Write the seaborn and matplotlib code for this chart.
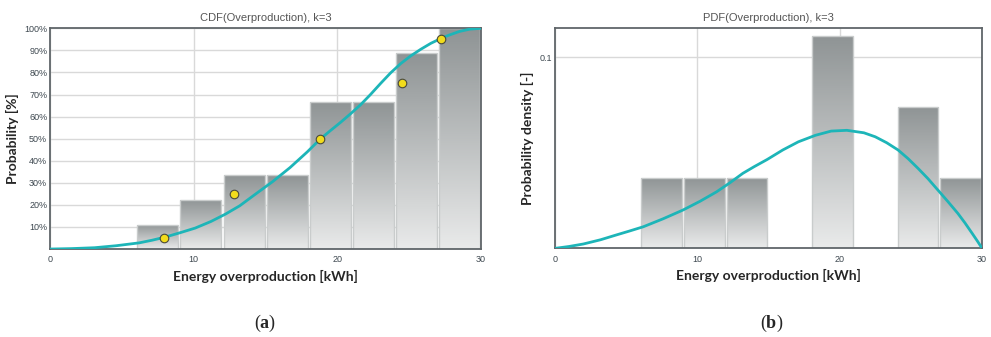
"""
CDF / PDF of energy overproduction (k=3), two panels side by side.
"""
import numpy as np
import pandas as pd
import matplotlib
matplotlib.use("Agg")
import matplotlib.pyplot as plt
from matplotlib.colors import LinearSegmentedColormap
import seaborn as sns

# histogram: bin centres and number of observations per bin
bin_edges = [6, 9, 12, 15, 18, 21, 24, 27, 30]
bin_centers = [7.5, 10.5, 13.5, 16.5, 19.5, 22.5, 25.5, 28.5]
bin_counts = [1, 1, 1, 0, 3, 0, 2, 1]

# fitted CDF curve, percent
cdf_x = [0, 1.5, 3.1, 4.6, 6.2, 7.1, 8.0, 9.0, 10.1, 11.2,
         12.2, 13.2, 14.3, 15.5, 16.7, 17.9, 18.8, 19.5, 20.2, 20.9,
         21.6, 22.3, 23.0, 23.7, 24.4, 25.1, 25.8, 26.5, 27.2, 27.8,
         28.5, 29.2, 30]
cdf_y = [0, 0.2, 0.6, 1.5, 2.8, 4.0, 5.4, 7.3, 9.5, 12.5,
         15.8, 19.6, 24.9, 30.6, 36.9, 44.0, 49.8, 53.6, 57.3, 61.2,
         65.3, 70.0, 75.0, 79.8, 84.0, 87.5, 90.5, 93.2, 95.4, 97.0,
         98.6, 99.6, 100]

# percentile markers on the CDF
pct_x = [7.96, 12.78, 18.82, 24.48, 27.24]
pct_y = [5, 25, 50, 75, 95]

# fitted PDF curve
pdf_x = [0, 1, 2, 3.2, 4.3, 5.2, 6.2, 7.6, 9.0, 10.2,
         11.35, 12.3, 13.2, 14.0, 14.9, 16.0, 17.1, 18.3, 19.4, 20.5,
         21.7, 22.5, 23.3, 24.1, 24.8, 25.5, 26.2, 26.9, 27.6, 28.3,
         28.8, 29.3, 29.7, 30]
pdf_y = [0, 0.001, 0.0023, 0.0045, 0.007, 0.009, 0.0113, 0.0155, 0.0201, 0.0247,
         0.0296, 0.0344, 0.0393, 0.0428, 0.0465, 0.0515, 0.0558, 0.0592, 0.0614, 0.0618,
         0.0605, 0.0584, 0.0553, 0.0515, 0.047, 0.0419, 0.0365, 0.0305, 0.0245, 0.0183,
         0.0133, 0.0079, 0.0035, 0]

sns.set_style("white")
plt.rcParams["font.family"] = ["Liberation Sans", "DejaVu Sans"]

hist_df = pd.DataFrame({"x": bin_centers, "n": bin_counts})
cdf_df = pd.DataFrame({"x": cdf_x, "y": cdf_y})
pdf_df = pd.DataFrame({"x": pdf_x, "y": pdf_y})
pct_df = pd.DataFrame({"x": pct_x, "y": pct_y})

curve_col = "#1db5b8"
frame_col = "#60666a"
tick_col = "#3e4850"
grad = LinearSegmentedColormap.from_list("bar", ["#e9eaea", "#8f9495"])

fig = plt.figure(figsize=(9.91, 3.37), dpi=100)
ax1 = fig.add_axes([0.0505, 0.261, 0.435, 0.655])
ax2 = fig.add_axes([0.560, 0.263, 0.431, 0.653])


def gradient_bars(ax):
    # replace flat bar fill by a vertical grey gradient
    for p in list(ax.patches):
        x0, y0 = p.get_x(), p.get_y()
        w, h = p.get_width(), p.get_height()
        if h <= 0:
            p.set_visible(False)
            continue
        img = np.linspace(0, 1, 100).reshape(-1, 1)
        im = ax.imshow(img, cmap=grad, origin="lower", aspect="auto",
                       extent=(x0, x0 + w, y0, y0 + h), zorder=1.5)
        im.set_clip_path(p)
        p.set_facecolor("none")
        p.set_edgecolor("#c9cccc")
        p.set_linewidth(1.0)
        p.set_zorder(1.6)


def style_axes(ax):
    ax.set_axisbelow(True)
    ax.grid(True, color="#d9d9d9", linewidth=1.0)
    for s in ax.spines.values():
        s.set_color(frame_col)
        s.set_linewidth(1.3)
    ax.tick_params(axis="x", length=2.5, width=0.8, color=frame_col, pad=2,
                   labelsize=6.5, labelcolor=tick_col)
    ax.tick_params(axis="y", length=0, pad=2, labelsize=6.5, labelcolor=tick_col)
    ax.set_xlim(0, 30)
    ax.set_xticks([0, 10, 20, 30])
    ax.set_xlabel("Energy overproduction [kWh]", fontsize=10, fontweight="bold",
                  family="Lato", labelpad=4)


# (a) CDF
sns.histplot(data=hist_df, x="x", weights="n", bins=bin_edges, stat="percent",
             cumulative=True, shrink=0.95, ax=ax1, legend=False)
gradient_bars(ax1)
sns.lineplot(data=cdf_df, x="x", y="y", color=curve_col, linewidth=2.0, ax=ax1, zorder=3)
sns.scatterplot(data=pct_df, x="x", y="y", color="#f2dc1c", edgecolor="#4a4a3a",
                linewidth=0.8, s=38, ax=ax1, zorder=4)
style_axes(ax1)
ax1.set_ylim(0, 100)
ax1.set_yticks(range(10, 101, 10))
ax1.set_yticklabels([f"{v}%" for v in range(10, 101, 10)])
ax1.set_ylabel("Probability [%]", fontsize=10, fontweight="bold", family="Lato", labelpad=4)
ax1.set_title("CDF(Overproduction), k=3", fontsize=8, color="#555555", pad=5)

# (b) PDF
sns.histplot(data=hist_df, x="x", weights="n", bins=bin_edges, stat="density",
             shrink=0.95, ax=ax2, legend=False)
gradient_bars(ax2)
sns.lineplot(data=pdf_df, x="x", y="y", color=curve_col, linewidth=2.0, ax=ax2, zorder=3)
style_axes(ax2)
ax2.set_ylim(0, 0.1152)
ax2.set_yticks([0.1])
ax2.set_yticklabels(["0.1"])
ax2.set_ylabel("Probability density [-]", fontsize=10, fontweight="bold", family="Lato", labelpad=4)
ax2.set_title("PDF(Overproduction), k=3", fontsize=8, color="#555555", pad=5)

# panel letters
plt.rcParams["mathtext.fontset"] = "custom"
plt.rcParams["mathtext.bf"] = "Liberation Serif:bold"
fig.text(265 / 991, 1 - 323 / 337, r"($\mathbf{a}$)", ha="center", va="center",
         fontsize=13, family="Liberation Serif")
fig.text(772 / 991, 1 - 323 / 337, r"($\mathbf{b}$)", ha="center", va="center",
         fontsize=13, family="Liberation Serif")

fig.savefig("out.png", dpi=100)
